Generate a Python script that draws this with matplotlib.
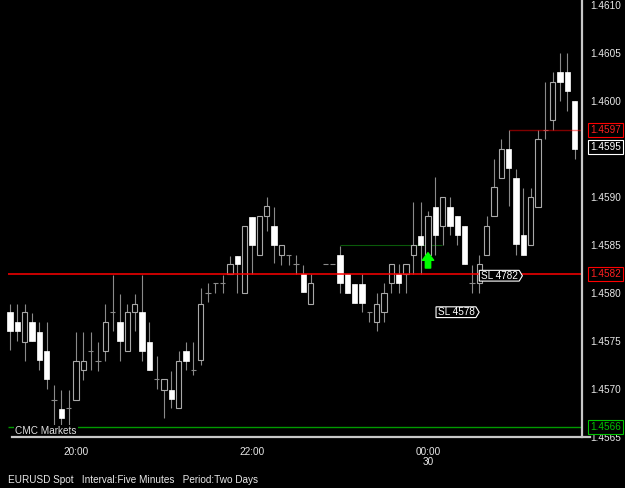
import numpy as np
import matplotlib
matplotlib.use('Agg')
import matplotlib.pyplot as plt
from matplotlib.patches import Rectangle
from matplotlib.lines import Line2D
from matplotlib.path import Path

plt.rcParams['font.family'] = ['Liberation Sans', 'DejaVu Sans']

# five minute EURUSD bars, 19:15 -> 01:40 (index 42 has no bar)
opens = [1.45780, 1.45770, 1.45749, 1.45770, 1.45759, 1.45740, 1.45689, 1.45679, 1.45680, 1.45689,
         1.45720, 1.45740, 1.45729, 1.45740, 1.45780, 1.45770, 1.45740, 1.45780, 1.45780, 1.45749,
         1.45710, 1.45699, 1.45699, 1.45680, 1.45740, 1.45720, 1.45730, 1.45800, 1.45810, 1.45810,
         1.45820, 1.45839, 1.45800, 1.45879, 1.45840, 1.45880, 1.45870, 1.45840, 1.45840, 1.45830,
         1.45820, 1.45789, np.nan, 1.45830, 1.45830, 1.45840, 1.45820, 1.45809, 1.45809, 1.45780,
         1.45770, 1.45780, 1.45810, 1.45820, 1.45820, 1.45840, 1.45859, 1.45840, 1.45890, 1.45870,
         1.45890, 1.45880, 1.45870, 1.45810, 1.45810, 1.45840, 1.45880, 1.45920, 1.45950, 1.45920,
         1.45860, 1.45850, 1.45890, 1.45970, 1.45980, 1.46030, 1.46030, 1.46000]
highs = [1.45789, 1.45789, 1.45789, 1.45779, 1.45770, 1.45770, 1.45704, 1.45699, 1.45699, 1.45759,
         1.45759, 1.45759, 1.45749, 1.45789, 1.45819, 1.45799, 1.45789, 1.45799, 1.45819, 1.45770,
         1.45734, 1.45710, 1.45719, 1.45740, 1.45749, 1.45749, 1.45805, 1.45810, 1.45810, 1.45819,
         1.45839, 1.45839, 1.45870, 1.45879, 1.45880, 1.45900, 1.45890, 1.45850, 1.45840, 1.45840,
         1.45829, 1.45820, np.nan, 1.45830, 1.45830, 1.45849, 1.45820, 1.45809, 1.45820, 1.45780,
         1.45800, 1.45810, 1.45830, 1.45830, 1.45830, 1.45895, 1.45895, 1.45885, 1.45921, 1.45900,
         1.45900, 1.45880, 1.45870, 1.45829, 1.45840, 1.45880, 1.45940, 1.45960, 1.45970, 1.45929,
         1.45909, 1.45909, 1.45970, 1.46020, 1.46030, 1.46050, 1.46050, 1.46000]
lows = [1.45741, 1.45750, 1.45729, 1.45750, 1.45720, 1.45700, 1.45662, 1.45662, 1.45663, 1.45689,
        1.45709, 1.45720, 1.45719, 1.45729, 1.45760, 1.45729, 1.45740, 1.45760, 1.45729, 1.45720,
        1.45700, 1.45670, 1.45680, 1.45680, 1.45720, 1.45715, 1.45725, 1.45791, 1.45800, 1.45800,
        1.45820, 1.45800, 1.45800, 1.45820, 1.45840, 1.45865, 1.45831, 1.45829, 1.45829, 1.45820,
        1.45801, 1.45789, np.nan, 1.45830, 1.45830, 1.45800, 1.45800, 1.45790, 1.45780, 1.45770,
        1.45760, 1.45770, 1.45800, 1.45800, 1.45800, 1.45820, 1.45820, 1.45840, 1.45840, 1.45850,
        1.45860, 1.45850, 1.45830, 1.45800, 1.45800, 1.45840, 1.45880, 1.45920, 1.45891, 1.45840,
        1.45840, 1.45850, 1.45890, 1.45960, 1.45970, 1.46000, 1.45990, 1.45940]
closes = [1.45760, 1.45760, 1.45780, 1.45750, 1.45730, 1.45710, 1.45689, 1.45670, 1.45680, 1.45729,
          1.45729, 1.45740, 1.45729, 1.45770, 1.45780, 1.45750, 1.45780, 1.45789, 1.45740, 1.45720,
          1.45710, 1.45710, 1.45690, 1.45729, 1.45729, 1.45720, 1.45789, 1.45800, 1.45810, 1.45810,
          1.45830, 1.45830, 1.45870, 1.45850, 1.45880, 1.45891, 1.45850, 1.45850, 1.45840, 1.45830,
          1.45801, 1.45810, np.nan, 1.45830, 1.45830, 1.45810, 1.45800, 1.45790, 1.45790, 1.45780,
          1.45789, 1.45800, 1.45830, 1.45810, 1.45830, 1.45850, 1.45850, 1.45880, 1.45860, 1.45900,
          1.45870, 1.45860, 1.45830, 1.45810, 1.45830, 1.45870, 1.45910, 1.45950, 1.45930, 1.45851,
          1.45840, 1.45900, 1.45960, 1.45970, 1.46020, 1.46020, 1.46010, 1.45950]

tick_pos = [9, 33, 57]
tick_labels = ['20:00', '22:00', '00:00\n30']
ytick_vals = [1.4565, 1.4570, 1.4575, 1.4580, 1.4585, 1.4590, 1.4595, 1.4600, 1.4605, 1.4610]

support = 1.4582
lower = 1.4566
prev_high = 1.4597
last = 1.4595
entry_level = 1.4585
sl_labels = ['SL 4782', 'SL 4578']
sl_pos = [(64.2, 1.45818), (58.3, 1.45780)]


def sl_box(x0, y0, width, height, mutation_size):
    # flat label with a small point on the right
    pad = 0.15 * mutation_size
    x0 -= pad
    y0 -= 0.25 * pad
    width += 2 * pad
    height += 0.5 * pad
    tip = height * 0.3
    verts = [(x0, y0), (x0 + width, y0), (x0 + width + tip, y0 + height / 2),
             (x0 + width, y0 + height), (x0, y0 + height), (x0, y0)]
    return Path(verts, closed=True)


W, H = 625, 488
fig = plt.figure(figsize=(W / 100, H / 100), dpi=100, facecolor='black')
ax = fig.add_axes([0, 51 / H, 582 / W, 437 / H])
ax.set_facecolor('black')

wick_c = '#8a8a8a'
hollow_c = '#a8a8a8'
bw = 0.7
for i in range(len(opens)):
    o, h, l, c = opens[i], highs[i], lows[i], closes[i]
    if np.isnan(o):
        continue
    if h > l:
        ax.vlines(i, l, h, color=wick_c, lw=0.8, zorder=2)
    if abs(o - c) < 1e-7:
        ax.hlines(o, i - bw / 2, i + bw / 2, color=wick_c, lw=0.8, zorder=3)
    elif c < o:
        ax.add_patch(Rectangle((i - bw / 2, c), bw, o - c, facecolor='white',
                               edgecolor='white', lw=0.5, zorder=3))
    else:
        ax.add_patch(Rectangle((i - bw / 2, o), bw, c - o, facecolor='black',
                               edgecolor=hollow_c, lw=0.8, zorder=3))

x0, x1 = -1.364, 78.0
ax.set_xlim(x0, x1)
ax.set_ylim(1.4565, 1.461052)

ax.hlines(support, -0.3, x1, color='#ff0000', lw=1.1, zorder=4)
ax.hlines(lower, -0.3, x1, color='#009a00', lw=1.0, zorder=4)
ax.hlines(prev_high, 68.0, x1, color='#ff0000', lw=1.0, alpha=0.5, zorder=4)
ax.hlines(entry_level, 45.0, 58.9, color='#0a5a0a', lw=0.8, zorder=1)

ax.annotate('', xy=(57, 1.45842), xytext=(57, 1.45826),
            arrowprops=dict(arrowstyle='simple,head_length=0.5,head_width=0.75,tail_width=0.35',
                            color='#00ff00', shrinkA=0, shrinkB=0, mutation_scale=11), zorder=5)

for s, (xp, yp) in zip(sl_labels, sl_pos):
    ax.text(xp, yp, s, color='white', fontsize=7.2, va='center', ha='left', zorder=6,
            bbox=dict(boxstyle=sl_box, facecolor='black', edgecolor='white', lw=0.8))

ax.text(15 / 582, 6 / 437, 'CMC Markets', transform=ax.transAxes, color='#e0e0e0',
        fontsize=7.2, va='center', ha='left', zorder=6,
        bbox=dict(facecolor='black', edgecolor='none', pad=1))

# axis frame lines
for sp in ax.spines.values():
    sp.set_visible(False)
ax.add_line(Line2D([1.0, 1.0], [0, 1.0], transform=ax.transAxes, color='#c8c8c8',
                   lw=1.6, clip_on=False, zorder=7))
ax.add_line(Line2D([12 / 582, 590 / 582], [0, 0], transform=ax.transAxes, color='#c8c8c8',
                   lw=1.6, clip_on=False, zorder=7))

# the 1.4595 tick sits under the last-price box, so its label is left blank
ax.yaxis.tick_right()
ax.set_yticks(ytick_vals)
ax.set_yticklabels(['' if abs(v - last) < 1e-7 else '%.4f' % v for v in ytick_vals])
ax.tick_params(axis='y', length=0, pad=5.8, labelsize=7.2, labelcolor='#e8e8e8')
ax.set_xticks(tick_pos)
ax.set_xticklabels(tick_labels)
ax.tick_params(axis='x', length=0, pad=7, labelsize=7.2, labelcolor='#e8e8e8')
for t in ax.get_xticklabels():
    t.set_linespacing(1.0)

tr = ax.get_yaxis_transform()
boxes = [(prev_high, '#ff2020', '#ff0000', 0.0), (last, 'white', 'white', 0.00002),
         (support, '#ff2020', '#ff0000', 0.0), (lower, '#00c000', '#00c000', 0.0)]
for val, tc, ec, dy in boxes:
    ax.text(1.0137, val + dy, '%.4f' % val, transform=tr, color=tc, fontsize=7.2,
            va='center', ha='left', zorder=8,
            bbox=dict(boxstyle='square,pad=0.2', facecolor='black', edgecolor=ec, lw=0.8))

fig.text(8 / W, 8 / H, 'EURUSD Spot   Interval:Five Minutes   Period:Two Days',
         color='#e8e8e8', fontsize=7.2, va='center', ha='left')

fig.savefig('out.png', dpi=100, facecolor='black')
